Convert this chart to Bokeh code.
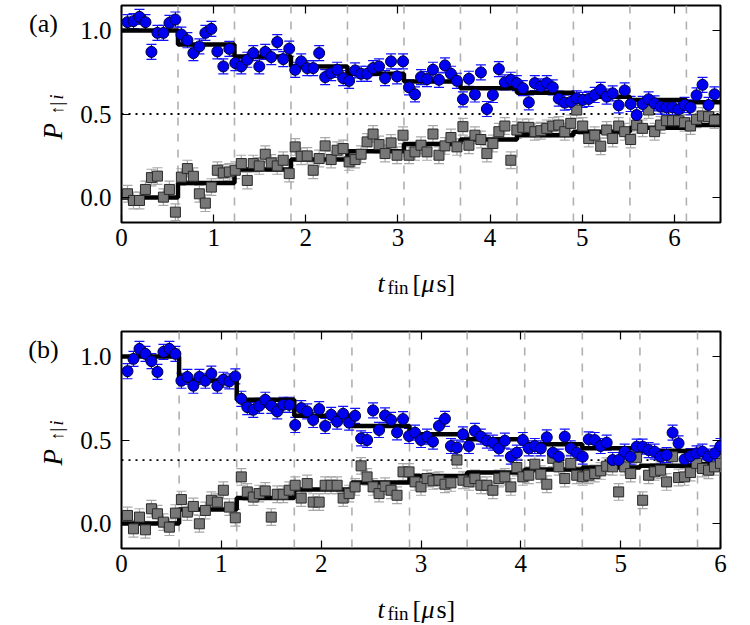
import math
from bokeh.plotting import figure
from bokeh.models import (Range1d, LinearAxis, FixedTicker, Span, Label, Whisker,
                          ColumnDataSource, TeeHead, NumeralTickFormatter)
from bokeh.layouts import column, row
from bokeh.embed import file_html
from bokeh.resources import INLINE

# ---------------- data : panel (a) ----------------
t_a = [0.065, 0.13, 0.195, 0.26, 0.325, 0.39, 0.455, 0.52, 0.585, 0.65,
       0.715, 0.78, 0.845, 0.91, 0.975, 1.04, 1.105, 1.17, 1.235, 1.3,
       1.365, 1.43, 1.495, 1.56, 1.625, 1.69, 1.755, 1.82, 1.885, 1.95,
       2.015, 2.08, 2.145, 2.21, 2.275, 2.34, 2.405, 2.47, 2.535, 2.6,
       2.665, 2.73, 2.795, 2.86, 2.925, 2.99, 3.055, 3.12, 3.185, 3.25,
       3.315, 3.38, 3.445, 3.51, 3.575, 3.64, 3.705, 3.77, 3.835, 3.9,
       3.965, 4.03, 4.095, 4.16, 4.225, 4.29, 4.355, 4.42, 4.485, 4.55,
       4.615, 4.68, 4.745, 4.81, 4.875, 4.94, 5.005, 5.07, 5.135, 5.2,
       5.265, 5.33, 5.395, 5.46, 5.525, 5.59, 5.655, 5.72, 5.785, 5.85,
       5.915, 5.98, 6.045, 6.11, 6.175, 6.24, 6.305, 6.37, 6.435]
blue_a = [1.05, 1.056, 1.082, 1.05, 0.872, 0.986, 0.986, 1.046, 1.066, 0.976,
          0.942, 0.865, 0.905, 0.986, 1.01, 0.875, 0.785, 0.89, 0.805, 0.785,
          0.825, 0.865, 0.785, 0.872, 0.841, 0.931, 0.829, 0.891, 0.765, 0.815,
          0.775, 0.775, 0.865, 0.721, 0.745, 0.765, 0.715, 0.699, 0.761, 0.741,
          0.741, 0.775, 0.785, 0.715, 0.815, 0.725, 0.815, 0.66, 0.618, 0.721,
          0.709, 0.765, 0.705, 0.791, 0.741, 0.699, 0.588, 0.711, 0.617, 0.749,
          0.53, 0.614, 0.769, 0.689, 0.705, 0.685, 0.655, 0.57, 0.685, 0.665,
          0.685, 0.66, 0.592, 0.568, 0.572, 0.594, 0.584, 0.59, 0.614, 0.645,
          0.604, 0.624, 0.552, 0.641, 0.56, 0.494, 0.56, 0.588, 0.564, 0.544,
          0.54, 0.54, 0.528, 0.554, 0.54, 0.612, 0.675, 0.554, 0.618]
gray_a = [0.022, -0.018, -0.018, 0.048, 0.119, 0.128, 0.002, 0.048, -0.088, 0.122,
          0.173, 0.127, 0.022, -0.034, 0.062, 0.163, 0.147, 0.153, 0.163, 0.203,
          0.102, 0.203, 0.189, 0.259, 0.207, 0.189, 0.223, 0.143, 0.303, 0.247,
          0.249, 0.163, 0.233, 0.309, 0.227, 0.283, 0.293, 0.213, 0.227, 0.259,
          0.333, 0.38, 0.317, 0.263, 0.327, 0.253, 0.373, 0.253, 0.273, 0.313,
          0.273, 0.38, 0.253, 0.309, 0.359, 0.303, 0.424, 0.313, 0.373, 0.347,
          0.263, 0.323, 0.394, 0.428, 0.223, 0.404, 0.42, 0.42, 0.394, 0.4,
          0.414, 0.428, 0.434, 0.394, 0.444, 0.524, 0.428, 0.353, 0.373, 0.307,
          0.404, 0.353, 0.428, 0.394, 0.347, 0.434, 0.414, 0.524, 0.394, 0.434,
          0.46, 0.46, 0.46, 0.448, 0.428, 0.468, 0.488, 0.484, 0.464]
edges_a = [0.0, 0.613, 1.226, 1.839, 2.452, 3.065, 3.678, 4.291, 4.904, 5.517, 6.13, 6.5]
fit_blue_a = [1.0, 0.916, 0.845, 0.785, 0.741, 0.695, 0.655, 0.628, 0.604, 0.584, 0.57]
fit_gray_a = [0.0, 0.086, 0.167, 0.227, 0.277, 0.32, 0.347, 0.373, 0.393, 0.418, 0.434]
ref_a = 0.5

# ---------------- data : panel (b) ----------------
t_b = [0.06, 0.12, 0.18, 0.24, 0.3, 0.36, 0.42, 0.48, 0.54, 0.6,
       0.66, 0.72, 0.78, 0.84, 0.9, 0.96, 1.02, 1.08, 1.14, 1.2,
       1.26, 1.32, 1.38, 1.44, 1.5, 1.56, 1.62, 1.68, 1.74, 1.8,
       1.86, 1.92, 1.98, 2.04, 2.1, 2.16, 2.22, 2.28, 2.34, 2.4,
       2.46, 2.52, 2.58, 2.64, 2.7, 2.76, 2.82, 2.88, 2.94, 3.0,
       3.06, 3.12, 3.18, 3.24, 3.3, 3.36, 3.42, 3.48, 3.54, 3.6,
       3.66, 3.72, 3.78, 3.84, 3.9, 3.96, 4.02, 4.08, 4.14, 4.2,
       4.26, 4.32, 4.38, 4.44, 4.5, 4.56, 4.62, 4.68, 4.74, 4.8,
       4.86, 4.92, 4.98, 5.04, 5.1, 5.16, 5.22, 5.28, 5.34, 5.4,
       5.46, 5.52, 5.58, 5.64, 5.7, 5.76, 5.82, 5.88, 5.94, 6.0]
blue_b = [0.912, 0.986, 1.046, 1.016, 0.972, 0.908, 1.028, 1.046, 1.016, 0.855,
          0.878, 0.825, 0.878, 0.855, 0.898, 0.825, 0.861, 0.851, 0.881, 0.747,
          0.697, 0.681, 0.705, 0.741, 0.705, 0.671, 0.711, 0.711, 0.59, 0.691,
          0.671, 0.62, 0.685, 0.584, 0.651, 0.61, 0.657, 0.604, 0.645, 0.51,
          0.5, 0.677, 0.56, 0.647, 0.62, 0.546, 0.625, 0.524, 0.544, 0.5,
          0.52, 0.49, 0.584, 0.627, 0.464, 0.454, 0.534, 0.464, 0.554, 0.52,
          0.496, 0.484, 0.45, 0.496, 0.4, 0.424, 0.5, 0.45, 0.464, 0.45,
          0.516, 0.424, 0.4, 0.52, 0.45, 0.424, 0.4, 0.504, 0.5, 0.464,
          0.484, 0.38, 0.38, 0.43, 0.4, 0.46, 0.46, 0.44, 0.43, 0.4,
          0.41, 0.544, 0.48, 0.384, 0.404, 0.42, 0.43, 0.4, 0.42, 0.464]
gray_b = [0.048, -0.032, 0.038, -0.038, 0.088, 0.058, 0.008, -0.022, 0.062, 0.143,
          0.068, 0.102, -0.002, 0.078, 0.139, 0.128, 0.199, 0.098, 0.034, 0.279,
          0.189, 0.158, 0.179, 0.195, 0.038, 0.175, 0.175, 0.199, 0.229, 0.152,
          0.239, 0.128, 0.128, 0.229, 0.229, 0.229, 0.152, 0.179, 0.219, 0.345,
          0.279, 0.219, 0.179, 0.223, 0.199, 0.169, 0.309, 0.309, 0.249, 0.219,
          0.269, 0.255, 0.259, 0.235, 0.243, 0.38, 0.259, 0.249, 0.269, 0.229,
          0.229, 0.199, 0.269, 0.279, 0.219, 0.335, 0.279, 0.289, 0.355, 0.295,
          0.235, 0.39, 0.339, 0.269, 0.36, 0.289, 0.279, 0.289, 0.299, 0.315,
          0.343, 0.339, 0.189, 0.339, 0.299, 0.396, 0.139, 0.289, 0.309, 0.319,
          0.249, 0.4, 0.275, 0.279, 0.305, 0.36, 0.329, 0.319, 0.339, 0.36]
edges_b = [0.0, 0.577, 1.154, 1.731, 2.308, 2.885, 3.462, 4.039, 4.616, 5.193, 5.77, 6.0]
fit_blue_b = [1.0, 0.855, 0.741, 0.646, 0.584, 0.534, 0.504, 0.474, 0.45, 0.434, 0.42]
fit_gray_b = [0.0, 0.083, 0.152, 0.203, 0.245, 0.285, 0.305, 0.323, 0.335, 0.345, 0.355]
ref_b = 0.38

err_blue = 0.045
err_gray = 0.05

x_ticks = [0, 1, 2, 3, 4, 5, 6]
y_ticks = [0.0, 0.5, 1.0]
SERIF = "Liberation Serif"
BLUE = "#0000f0"
GRAY = "#777777"
STRIP_W = 70          # width of the left text strip
BOTTOM = 40           # bottom border of each data figure


def blank(width, height):
    """A bare figure used only to hold text labels outside the data frame."""
    s = figure(width=width, height=height, output_backend="svg",
               toolbar_location=None, x_range=Range1d(0, width),
               y_range=Range1d(0, height), x_axis_location=None,
               y_axis_location=None, min_border=0)
    s.min_border_left = s.min_border_right = 0
    s.min_border_top = s.min_border_bottom = 0
    s.outline_line_color = None
    s.xgrid.visible = False
    s.ygrid.visible = False
    s.border_fill_color = "white"
    s.background_fill_color = "white"
    return s


def lab(fig, x, y, text, size, style="normal", angle=0.0, align="left",
        baseline="alphabetic"):
    fig.add_layout(Label(x=x, y=y, x_units="screen", y_units="screen",
                         text=text, text_font=SERIF, text_font_size=size,
                         text_font_style=style, angle=angle,
                         text_align=align, text_baseline=baseline,
                         text_color="black"))


def main_fig(t, blue, gray, edges, fit_blue, fit_gray, ref, border_top):
    p = figure(frame_width=599, frame_height=217, output_backend="svg",
               toolbar_location=None, x_range=Range1d(0, edges[-1]),
               y_range=Range1d(-0.15, 1.15),
               min_border_left=121 - STRIP_W, min_border_right=30,
               min_border_top=border_top, min_border_bottom=BOTTOM)
    p.xgrid.visible = False
    p.ygrid.visible = False
    p.outline_line_color = "black"
    p.outline_line_width = 2
    p.background_fill_color = "white"
    p.border_fill_color = "white"

    def style_axis(ax, ticks, fmt, show, standoff):
        ax.ticker = FixedTicker(ticks=ticks)
        ax.formatter = NumeralTickFormatter(format=fmt)
        ax.major_tick_in = 8
        ax.major_tick_out = 0
        ax.minor_tick_line_color = None
        ax.major_tick_line_color = "black"
        ax.major_tick_line_width = 1.2
        ax.axis_line_color = None
        if show:
            ax.major_label_text_font = SERIF
            ax.major_label_text_font_size = "25px"
            ax.major_label_text_color = "black"
            ax.major_label_standoff = standoff
        else:
            ax.major_label_overrides = {tk: "" for tk in ticks}
            ax.major_label_text_font_size = "1px"
            ax.major_label_standoff = 0

    style_axis(p.xaxis[0], x_ticks, "0", True, 6)
    style_axis(p.yaxis[0], y_ticks, "0.0", True, 10)
    top = LinearAxis()
    right = LinearAxis()
    style_axis(top, x_ticks, "0", False, 0)
    style_axis(right, y_ticks, "0.0", False, 0)
    p.add_layout(top, "above")
    p.add_layout(right, "right")

    for e in edges[1:-1]:
        p.add_layout(Span(location=e, dimension="height", line_color="#b0b0b0",
                          line_width=1.6, line_dash="8 8", level="underlay"))
    p.add_layout(Span(location=ref, dimension="width", line_color="black",
                      line_width=1.8, line_dash="2 5", level="underlay"))

    sb = ColumnDataSource(dict(t=t, y=blue,
                               lo=[v - err_blue for v in blue],
                               hi=[v + err_blue for v in blue]))
    sg = ColumnDataSource(dict(t=t, y=gray,
                               lo=[v - err_gray for v in gray],
                               hi=[v + err_gray for v in gray]))
    p.add_layout(Whisker(source=sg, base="t", lower="lo", upper="hi",
                         line_color="#a8a8a8", line_width=1.2,
                         upper_head=TeeHead(size=10, line_color="#a8a8a8", line_width=1.2),
                         lower_head=TeeHead(size=10, line_color="#a8a8a8", line_width=1.2)))
    p.add_layout(Whisker(source=sb, base="t", lower="lo", upper="hi",
                         line_color="#1010ff", line_width=1.2,
                         upper_head=TeeHead(size=10, line_color="#1010ff", line_width=1.2),
                         lower_head=TeeHead(size=10, line_color="#1010ff", line_width=1.2)))

    p.step(x=edges, y=fit_gray + [fit_gray[-1]], mode="after",
           line_color="black", line_width=4.5)
    p.step(x=edges, y=fit_blue + [fit_blue[-1]], mode="after",
           line_color="black", line_width=4.5)

    p.scatter("t", "y", source=sg, marker="square", size=10,
              fill_color=GRAY, line_color="#2a2a2a", line_width=1)
    p.scatter("t", "y", source=sb, marker="circle", size=11,
              fill_color=BLUE, line_color="#000040", line_width=1)
    return p


def panel(t, blue, gray, edges, fit_blue, fit_gray, ref, tag,
          border_top, total_h, page_top, xl_from_bottom):
    main = main_fig(t, blue, gray, edges, fit_blue, fit_gray, ref, border_top)
    mh = border_top + 217 + BOTTOM
    fb = page_top + border_top + 217       # frame bottom, page pixels
    # left strip (its frame is aligned with the data frame by the row layout)
    left = blank(STRIP_W, mh)
    lab(left, 43, fb - (page_top + border_top + 18), tag, "26px",
        align="center", baseline="middle")
    ys = 83                                 # P starts 83 px above frame bottom
    lab(left, 52, ys, "P", "27px", "italic", angle=math.pi / 2)
    lab(left, 56, ys + 25, "↑|", "18px", angle=math.pi / 2)
    lab(left, 56, ys + 40, "i", "18px", "italic", angle=math.pi / 2)
    # bottom strip: x label  t_fin [μs]
    xh = total_h - mh
    bottom = blank(750, xh)
    xb = xl_from_bottom
    lab(bottom, 377, xb, "t", "26px", "italic")
    lab(bottom, 387, xb - 4, "fin", "19px")
    lab(bottom, 412, xb, "[", "26px")
    lab(bottom, 421, xb, "μ", "26px", "italic")
    lab(bottom, 436, xb, "s]", "26px")
    return column(row(left, main, spacing=0), bottom, spacing=0)


# panel (a): page rows 0..309, frame 5..222 ; panel (b): rows 309..625, frame 331..548
pa = panel(t_a, blue_a, gray_a, edges_a, fit_blue_a, fit_gray_a, ref_a,
           "(a)", 5, 309, 0, 26)
pb = panel(t_b, blue_b, gray_b, edges_b, fit_blue_b, fit_gray_b, ref_b,
           "(b)", 22, 316, 309, 16)

layout = column(pa, pb, spacing=0)
open("out.html", "w").write(file_html(layout, INLINE))
